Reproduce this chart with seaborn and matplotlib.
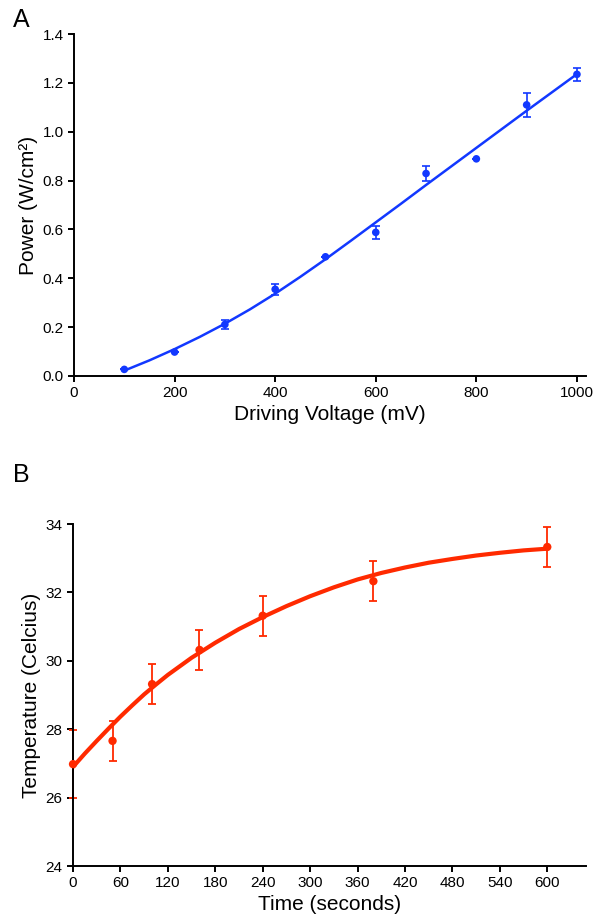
import numpy as np
import pandas as pd
import matplotlib
matplotlib.use('Agg')
import matplotlib.pyplot as plt
import seaborn as sns

# panel A: power vs driving voltage
voltage = [100, 200, 300, 400, 500, 600, 700, 800, 900, 1000]
power = [0.027, 0.098, 0.211, 0.355, 0.488, 0.588, 0.829, 0.889, 1.110, 1.235]
power_err = [0.0, 0.0, 0.018, 0.022, 0.0, 0.027, 0.032, 0.0, 0.049, 0.026]
# fitted curve
fit_voltage = [100, 150, 200, 250, 300, 350, 400, 450, 500, 550, 600, 650, 700, 750, 800, 850, 900, 950, 1000]
fit_power = [0.022, 0.064, 0.110, 0.160, 0.214, 0.273, 0.337, 0.406, 0.478, 0.553, 0.629, 0.705,
             0.782, 0.858, 0.934, 1.010, 1.086, 1.161, 1.236]

# panel B: temperature vs time
time_s = [0, 50, 100, 160, 240, 380, 600]
temp = [26.98, 27.66, 29.32, 30.32, 31.32, 32.33, 33.33]
temp_err = [1.0, 0.58, 0.58, 0.58, 0.58, 0.58, 0.58]
# fitted curve
fit_time = [0, 15, 30, 45, 60, 75, 90, 105, 120, 150, 180, 210, 240, 270, 300, 330, 360, 390, 420,
            450, 480, 510, 540, 570, 600]
fit_temp = [26.90, 27.29, 27.66, 28.02, 28.37, 28.70, 29.02, 29.31, 29.59, 30.09, 30.53, 30.93,
            31.28, 31.60, 31.89, 32.15, 32.38, 32.57, 32.73, 32.87, 32.98, 33.08, 33.16, 33.23, 33.28]

blue = '#1238ff'
red = '#ff2a00'

sns.set_style('ticks')
plt.rcParams['font.family'] = ['Liberation Sans', 'DejaVu Sans']
plt.rcParams['text.color'] = 'black'
plt.rcParams['axes.labelcolor'] = 'black'
plt.rcParams['xtick.color'] = 'black'
plt.rcParams['ytick.color'] = 'black'
plt.rcParams['axes.linewidth'] = 1.4
plt.rcParams['xtick.major.width'] = 1.4
plt.rcParams['ytick.major.width'] = 1.4
plt.rcParams['xtick.major.size'] = 4
plt.rcParams['ytick.major.size'] = 4
plt.rcParams['xtick.labelsize'] = 11
plt.rcParams['ytick.labelsize'] = 11
plt.rcParams['axes.edgecolor'] = 'black'

fig = plt.figure(figsize=(6.05, 9.22), dpi=100)
ax1 = fig.add_axes([0.1223, 0.5922, 0.8463, 0.3709])
ax2 = fig.add_axes([0.1207, 0.0607, 0.8479, 0.3709])

# ---- A ----
df_a = pd.DataFrame({'voltage': voltage, 'power': power, 'err': power_err})
df_fit_a = pd.DataFrame({'voltage': fit_voltage, 'power': fit_power})
sns.lineplot(data=df_fit_a, x='voltage', y='power', color=blue, linewidth=1.8, ax=ax1)
ax1.errorbar(df_a['voltage'], df_a['power'], yerr=df_a['err'], fmt='none',
             ecolor=blue, elinewidth=1.2, capsize=3, capthick=1.2, clip_on=False)
sns.scatterplot(data=df_a, x='voltage', y='power', color=blue, s=30, edgecolor='none',
                ax=ax1, clip_on=False, zorder=5)
ax1.set_xlim(0, 1018)
ax1.set_ylim(0, 1.4)
ax1.set_xticks([0, 200, 400, 600, 800, 1000])
ax1.set_yticks(np.arange(0, 1.41, 0.2))
ax1.set_yticklabels(['0.0', '0.2', '0.4', '0.6', '0.8', '1.0', '1.2', '1.4'])
ax1.set_xlabel('Driving Voltage (mV)', fontsize=15, labelpad=3)
ax1.set_ylabel('Power (W/cm²)', fontsize=15, labelpad=3)
sns.despine(ax=ax1)

# ---- B ----
df_b = pd.DataFrame({'time': time_s, 'temp': temp, 'err': temp_err})
df_fit_b = pd.DataFrame({'time': fit_time, 'temp': fit_temp})
sns.lineplot(data=df_fit_b, x='time', y='temp', color=red, linewidth=3.0, ax=ax2)
ax2.errorbar(df_b['time'], df_b['temp'], yerr=df_b['err'], fmt='none',
             ecolor=red, elinewidth=1.3, capsize=3, capthick=1.3, clip_on=False)
sns.scatterplot(data=df_b, x='time', y='temp', color=red, s=36, edgecolor='none',
                ax=ax2, clip_on=False, zorder=5)
ax2.set_xlim(0, 649)
ax2.set_ylim(24, 34)
ax2.set_xticks(np.arange(0, 601, 60))
ax2.set_yticks(np.arange(24, 35, 2))
ax2.set_xlabel('Time (seconds)', fontsize=15, labelpad=3)
ax2.set_ylabel('Temperature (Celcius)', fontsize=15, labelpad=3)
sns.despine(ax=ax2)

fig.text(13 / 605, 1 - 27 / 922, 'A', fontsize=18, va='baseline', ha='left')
fig.text(13 / 605, 1 - 482 / 922, 'B', fontsize=18, va='baseline', ha='left')

plt.savefig('out.png', dpi=100)
